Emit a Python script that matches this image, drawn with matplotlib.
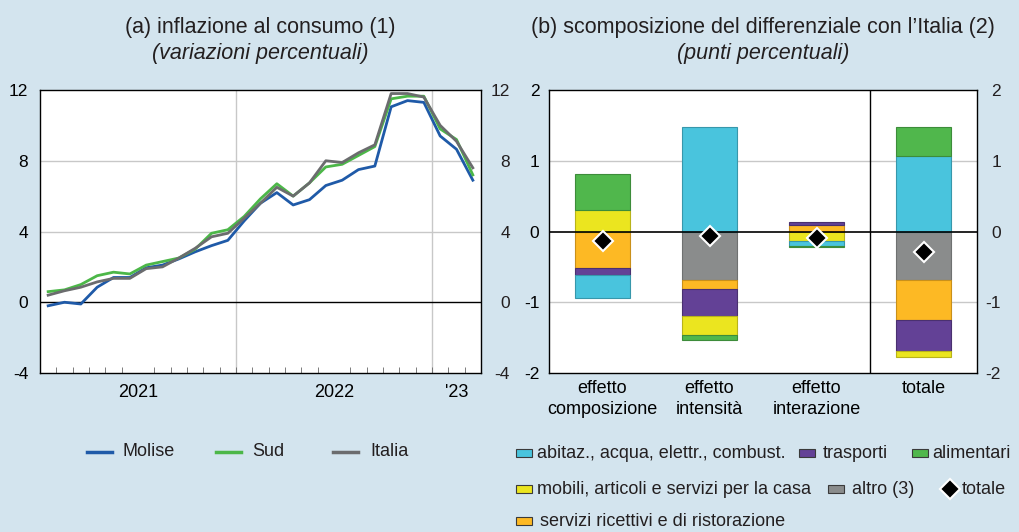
import numpy as np
import matplotlib
matplotlib.use('Agg')
import matplotlib.pyplot as plt
from matplotlib.patches import Rectangle
from matplotlib.lines import Line2D

plt.rcParams['font.family'] = ['Liberation Sans', 'DejaVu Sans']
plt.rcParams['font.size'] = 12.5
plt.rcParams['text.color'] = '#231f20'

# ---- panel (a): monthly inflation, Jan 2021 - Mar 2023 ----
molise = [-0.2, 0.0, -0.1, 0.85, 1.4, 1.4, 1.95, 2.1, 2.45, 2.85, 3.2, 3.5,
          4.6, 5.6, 6.2, 5.5, 5.8, 6.6, 6.9, 7.5, 7.7, 11.05, 11.4, 11.3,
          9.4, 8.65, 6.9]
sud = [0.6, 0.7, 1.0, 1.5, 1.7, 1.6, 2.1, 2.3, 2.5, 3.0, 3.9, 4.1,
       4.85, 5.85, 6.7, 6.0, 6.75, 7.65, 7.8, 8.3, 8.8, 11.5, 11.65, 11.65,
       9.8, 9.2, 7.2]
italia = [0.4, 0.65, 0.85, 1.15, 1.35, 1.35, 1.9, 2.0, 2.5, 3.05, 3.7, 3.9,
          4.75, 5.6, 6.5, 6.0, 6.75, 8.0, 7.9, 8.45, 8.9, 11.8, 11.8, 11.6,
          10.0, 9.1, 7.6]
year_labels = ['2021', '2022', "'23"]
left_yticks = [-4, 0, 4, 8, 12]

# ---- panel (b): decomposition of the gap with Italy ----
categories = ['effetto\ncomposizione', 'effetto\nintensità', 'effetto\ninterazione', 'totale']
abitaz = [-0.32, 1.475, -0.066, 1.07]
trasporti = [-0.104, -0.387, 0.042, -0.448]
alimentari = [0.505, -0.075, -0.02, 0.406]
mobili = [0.31, -0.264, -0.132, -0.08]
altro = [0.0, -0.684, 0.0, -0.69]
servizi = [-0.514, -0.127, 0.09, -0.557]
totale = [-0.13, -0.066, -0.094, -0.29]
right_yticks = [-2, -1, 0, 1, 2]

bg = '#d3e4ee'
c_blue, c_green_l, c_gray_l = '#1f5aa8', '#4cb748', '#6b6c6e'
c_cyan, c_purple, c_green = '#49c4dd', '#634196', '#50b74c'
c_yellow, c_gray, c_orange = '#ebe51f', '#8a8c8c', '#fdb924'

W, H = 1019, 532
fig = plt.figure(figsize=(W / 100, H / 100), dpi=100, facecolor=bg)

# ---------------- left panel ----------------
ax1 = fig.add_axes([40 / W, 1 - 373 / H, 441 / W, 283 / H])
x = np.arange(len(molise)) + 0.5
ax1.plot(x, molise, color=c_blue, lw=2.0, zorder=3)
ax1.plot(x, sud, color=c_green_l, lw=2.0, zorder=3)
ax1.plot(x, italia, color=c_gray_l, lw=2.0, zorder=3)
ax1.set_xlim(0, 27)
ax1.set_ylim(-4, 12)
ax1.set_yticks(left_yticks)
ax1.set_yticklabels([str(v) for v in left_yticks])
for y in [4, 8]:
    ax1.axhline(y, color='#c8c8c8', lw=1.0, zorder=1)
for xv in [12, 24]:
    ax1.axvline(xv, color='#c8c8c8', lw=1.0, zorder=1)
ax1.axhline(0, color='black', lw=1.0, zorder=2)
ax1.set_xticks([6, 18, 25.5])
ax1.set_xticklabels(year_labels, fontsize=13)
ax1.set_xticks(np.arange(1, 27), minor=True)
ax1.tick_params(axis='x', which='major', length=0, pad=8)
ax1.tick_params(axis='x', which='minor', direction='in', length=4, color='#666666')
ax1.tick_params(axis='y', length=0, pad=8.5)
# right-hand copy of the scale, right-aligned like the original
for v in left_yticks:
    ax1.text(1 + 29 / 441, v, str(v), transform=ax1.get_yaxis_transform(),
             ha='right', va='center_baseline', fontsize=12.5)
for s in ax1.spines.values():
    s.set_linewidth(1.0)

# ---------------- right panel ----------------
ax2 = fig.add_axes([549 / W, 1 - 373 / H, 428 / W, 283 / H])
xb = np.arange(len(categories))
# stacking order (closest to zero first)
series = [
    (altro, c_gray, '#6f7171'),
    (servizi, c_orange, '#c9901a'),
    (trasporti, c_purple, '#4a3070'),
    (mobili, c_yellow, '#b8b31a'),
    (abitaz, c_cyan, '#3797ab'),
    (alimentari, c_green, '#3d8c3a'),
]
pos = np.zeros(len(categories))
neg = np.zeros(len(categories))
for vals, col, ec in series:
    v = np.array(vals)
    bottoms = np.where(v >= 0, pos, neg)
    ax2.bar(xb, v, bottom=bottoms, width=0.51, color=col, edgecolor=ec,
            linewidth=0.8, zorder=3)
    pos = pos + np.where(v >= 0, v, 0)
    neg = neg + np.where(v < 0, v, 0)
ax2.plot(xb, totale, linestyle='none', marker='D', markersize=10,
         markerfacecolor='black', markeredgecolor='white', markeredgewidth=1.5,
         zorder=5)
ax2.set_xlim(-0.5, 3.5)
ax2.set_ylim(-2, 2)
ax2.set_yticks(right_yticks)
ax2.set_yticklabels([str(v) for v in right_yticks])
for y in [-1, 1]:
    ax2.axhline(y, color='#c8c8c8', lw=1.0, zorder=1)
ax2.axhline(0, color='black', lw=1.2, zorder=4)
ax2.axvline(2.5, color='black', lw=1.0, zorder=4)
ax2.set_xticks(xb)
ax2.set_xticklabels(categories, linespacing=1.35, fontsize=13)
ax2.tick_params(axis='x', length=0, pad=5)
ax2.tick_params(axis='y', length=0, pad=7)
for v in right_yticks:
    ax2.text(1 + 24 / 428, v, str(v), transform=ax2.get_yaxis_transform(),
             ha='right', va='center_baseline', fontsize=12.5)
for s in ax2.spines.values():
    s.set_linewidth(1.0)

# ---------------- titles ----------------
fig.text(260 / W, 1 - 28 / H, '(a) inflazione al consumo (1)', ha='center',
         va='center', fontsize=15.5)
fig.text(260 / W, 1 - 53 / H, '(variazioni percentuali)', ha='center',
         va='center', fontsize=15.5, style='italic')
fig.text(763 / W, 1 - 28 / H, "(b) scomposizione del differenziale con l\u2019Italia (2)",
         ha='center', va='center', fontsize=15.5)
fig.text(763 / W, 1 - 53 / H, '(punti percentuali)', ha='center',
         va='center', fontsize=15.5, style='italic')

# ---------------- left legend ----------------
for (x0, x1, tx, col, lab) in [(87, 112, 123, c_blue, 'Molise'),
                               (216, 241, 252, c_green_l, 'Sud'),
                               (333, 358, 370, c_gray_l, 'Italia')]:
    fig.add_artist(Line2D([x0 / W, x1 / W], [1 - 452 / H, 1 - 452 / H],
                          color=col, lw=2.5, transform=fig.transFigure))
    fig.text(tx / W, 1 - 452 / H, lab, ha='left', va='center', fontsize=13)

# ---------------- right legend ----------------
patches = [
    (516, 453, c_cyan, 537, 'abitaz., acqua, elettr., combust.'),
    (799, 453, c_purple, 823, 'trasporti'),
    (912, 453, c_green, 932, 'alimentari'),
    (516, 489, c_yellow, 537, 'mobili, articoli e servizi per la casa'),
    (828, 489, c_gray, 852, 'altro (3)'),
    (516, 521, c_orange, 540, 'servizi ricettivi e di ristorazione'),
]
for (px, py, col, tx, lab) in patches:
    fig.add_artist(Rectangle((px / W, 1 - (py + 4) / H), 16 / W, 8 / H,
                             facecolor=col, edgecolor='#3a3a3a', lw=0.8,
                             transform=fig.transFigure))
    fig.text(tx / W, 1 - py / H, lab, ha='left', va='center', fontsize=13)
fig.add_artist(Line2D([950 / W], [1 - 489 / H], marker='D', markersize=10,
                      markerfacecolor='black', markeredgecolor='white',
                      markeredgewidth=1.5, linestyle='none',
                      transform=fig.transFigure))
fig.text(962 / W, 1 - 489 / H, 'totale', ha='left', va='center', fontsize=13)

fig.savefig('out.png', dpi=100, facecolor=bg)
